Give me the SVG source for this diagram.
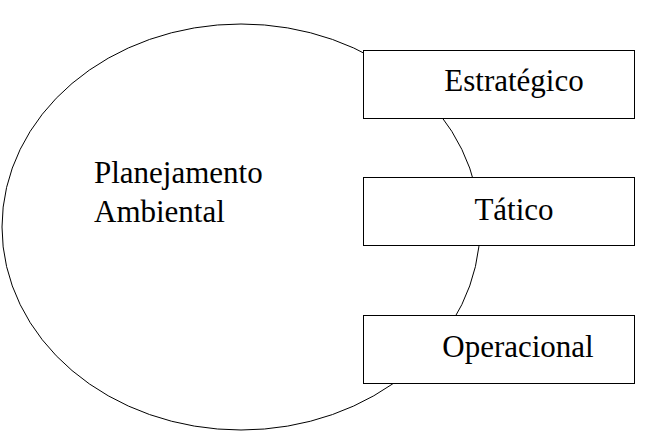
<svg xmlns="http://www.w3.org/2000/svg" width="656" height="431" viewBox="0 0 656 431">
<style>
.shape{fill:#fff;stroke:#000;stroke-width:1}
text{font-family:'Times New Roman','Liberation Serif',Tinos,serif;font-size:31px;fill:#000}
.c{text-anchor:middle}
</style>
<rect width="656" height="431" fill="#fff"/>
<g id="planejamento">
<ellipse class="shape" cx="241" cy="227" rx="239" ry="203"/>
<text x="94" y="183">Planejamento</text>
<text x="94" y="222">Ambiental</text>
</g>
<g id="connectors"></g>
<g id="estrategico">
<rect class="shape" x="363.5" y="50.5" width="271" height="68"/>
<text class="c" x="514" y="91">Estratégico</text>
</g>
<g id="tatico">
<rect class="shape" x="363.5" y="177.5" width="271" height="68"/>
<text class="c" x="514" y="220">Tático</text>
</g>
<g id="operacional">
<rect class="shape" x="363.5" y="315.5" width="271" height="68"/>
<text class="c" x="518" y="357">Operacional</text>
</g>
</svg>
